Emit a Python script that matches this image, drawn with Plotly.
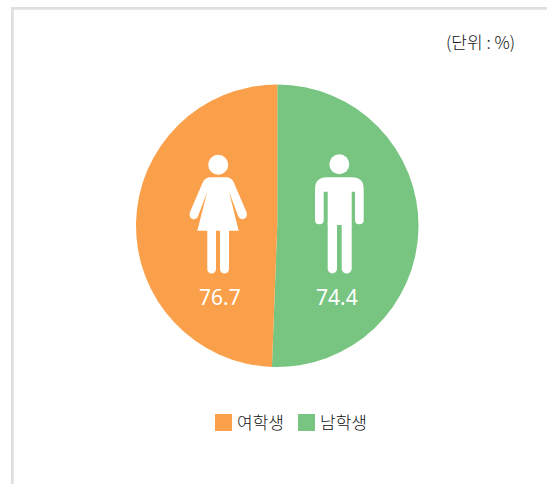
import re
import plotly.graph_objects as go

W, H = 547, 484
FONT = "Noto Sans CJK KR"
NUM_FONT = "Noto Sans"

categories = ["남학생", "여학생"]
values = [74.4, 76.7]
# slice shares as drawn in the picture (the divide passes just left of bottom)
slice_shares = [50.6, 49.4]
colors = ["#78C582", "#FBA04A"]
unit_label = "(단위 : %)"


def px(x):
    return x / W


def py(y):
    return 1 - y / H


def path(d):
    toks = re.findall(r"[MLQCZ]|-?\d+\.?\d*", d)
    out, is_x = [], True
    for t in toks:
        if t.isalpha():
            out.append(t)
            is_x = True
        else:
            out.append(f"{px(float(t)):.5f}" if is_x else f"{py(float(t)):.5f}")
            is_x = not is_x
    s = ""
    for t in out:
        s += t if t.isalpha() else t + " "
    return s.strip()


def solid(d, color="white"):
    return dict(type="path", xref="paper", yref="paper", path=path(d),
                fillcolor=color, line=dict(width=0), layer="above")


def circle(cx, cy, r):
    return dict(type="circle", xref="paper", yref="paper",
                x0=px(cx - r), x1=px(cx + r), y0=py(cy + r), y1=py(cy - r),
                fillcolor="white", line=dict(width=0), layer="above")


def rect(x0, y0, x1, y1, color):
    return dict(type="rect", xref="paper", yref="paper",
                x0=px(x0), x1=px(x1), y0=py(y1), y1=py(y0),
                fillcolor=color, line=dict(width=0), layer="above")


def leg(x0, x1, top, bottom):
    mid = (x0 + x1) / 2
    k = (x1 - x0) / 2
    return solid(f"M {x0} {top} L {x1} {top} L {x1} {bottom - k} "
                 f"C {x1} {bottom - k * 0.45} {mid + k * 0.55} {bottom} {mid} {bottom} "
                 f"C {mid - k * 0.55} {bottom} {x0} {bottom - k * 0.45} {x0} {bottom - k} Z")


shapes = [
    rect(11, 7, W, 9.7, "#DFDFDF"),
    rect(11, 7, 13.7, H, "#DFDFDF"),
    # female icon
    circle(218.2, 164.7, 10),
    solid("M 211 177.3 L 226 177.3 Q 232 177.3 234 183 L 246.5 212 Q 248 218 243 219.3 "
          "Q 239.5 219.5 238 215.5 L 229 191.7 L 238.7 230.7 L 197.3 230.7 L 207.3 191.7 "
          "L 198.3 215.5 Q 197 219.5 193 219.3 Q 188.5 218 190 212 L 202.5 183 "
          "Q 204.5 177.3 211 177.3 Z"),
    leg(207.3, 216, 229, 273.5),
    leg(220, 229, 229, 273.5),
    # male icon
    circle(339.3, 164.3, 10),
    solid("M 327 177.3 L 352 177.3 Q 363.7 177.3 363.7 189 L 363.7 220 "
          "Q 363.7 224.3 359.3 224.3 Q 355 224.3 355 220 L 355 191.7 L 351.7 191.7 "
          "L 351.7 225 L 327.7 225 L 327.7 191.7 L 323.7 191.7 L 323.7 220 "
          "Q 323.7 224.3 319.3 224.3 Q 315 224.3 315 220 L 315 189 Q 315 177.3 327 177.3 Z"),
    leg(327.7, 337, 223, 273.5),
    leg(341.7, 351.7, 223, 273.5),
    # legend swatches
    rect(215, 414, 232, 431, colors[1]),
    rect(298, 414, 315, 431, colors[0]),
]


def label(x, y, text, size, color, anchor="center", family=FONT, weight=300):
    return dict(x=px(x), y=py(y), xref="paper", yref="paper", text=text, showarrow=False,
                xanchor=anchor, yanchor="middle",
                font=dict(family=family, size=size, color=color, weight=weight))


annotations = [
    label(219.5, 297, str(values[1]), 21, "white", family=NUM_FONT, weight=400),
    label(337, 297, str(values[0]), 21, "white", family=NUM_FONT, weight=400),
    label(480, 41, unit_label, 17, "#111111"),
    label(234.5, 421, categories[1], 17, "#111111", "left"),
    label(317.5, 421, categories[0], 17, "#111111", "left"),
]

fig = go.Figure(go.Pie(
    labels=categories,
    values=slice_shares,
    sort=False,
    direction="clockwise",
    rotation=0,
    marker=dict(colors=colors, line=dict(width=0)),
    textinfo="none",
    hoverinfo="label",
    showlegend=False,
    domain=dict(x=[px(136), px(418.5)], y=[py(367), py(84.5)]),
))

fig.update_layout(
    width=W, height=H,
    margin=dict(l=0, r=0, t=0, b=0),
    paper_bgcolor="white",
    shapes=shapes,
    annotations=annotations,
)

fig.write_html(
    "out.html",
    config=dict(displayModeBar=False),
    post_script="document.body.style.margin='0';document.body.style.overflow='hidden';",
)
